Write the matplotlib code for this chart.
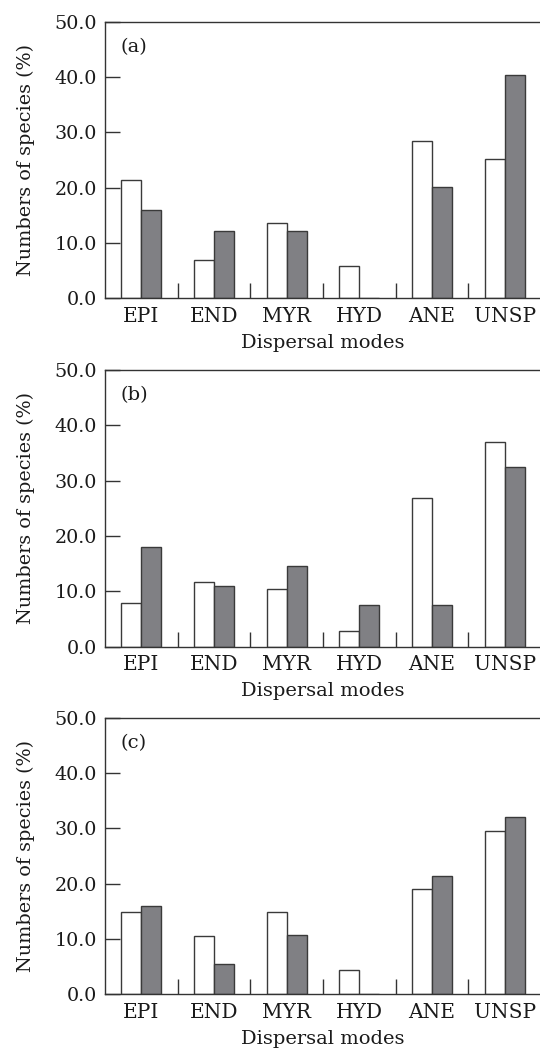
import matplotlib
matplotlib.use("Agg")
import matplotlib.pyplot as plt
import numpy as np

categories = ["EPI", "END", "MYR", "HYD", "ANE", "UNSP"]
panel_labels = ["(a)", "(b)", "(c)"]
white_a = [21.4, 7.0, 13.7, 5.9, 28.4, 25.1]
grey_a = [16.0, 12.2, 12.2, 0.0, 20.2, 40.4]
white_b = [7.8, 11.6, 10.4, 2.8, 26.8, 36.9]
grey_b = [18.0, 11.0, 14.5, 7.5, 7.6, 32.4]
white_c = [14.8, 10.6, 14.9, 4.4, 19.1, 29.6]
grey_c = [15.9, 5.4, 10.7, 0.0, 21.4, 32.0]
y_ticks = [0, 10, 20, 30, 40, 50]

plt.rcParams['font.family'] = ['DejaVu Serif']
W, H = 540, 1051
fig = plt.figure(figsize=(W / 100, H / 100), dpi=100)

tops = [21.7, 370.0, 717.7]
ax_h = 276.6
left, right = 105.0, 541.0
text_col = '#1a1a1a'
data = [(white_a, grey_a), (white_b, grey_b), (white_c, grey_c)]

x = np.arange(len(categories))
bw = 0.275
for k, (top, (wv, gv)) in enumerate(zip(tops, data)):
    ax = fig.add_axes([left / W, 1 - (top + ax_h) / H, (right - left) / W, ax_h / H])
    ax.bar(x - bw / 2, wv, width=bw, color='white', edgecolor='#3a3a3a', linewidth=1.0)
    ax.bar(x + bw / 2, gv, width=bw, color='#808084', edgecolor='#3a3a3a', linewidth=1.0)
    ax.set_xlim(-0.5, len(categories) - 0.5)
    ax.set_ylim(0, 50)
    ax.set_yticks(y_ticks)
    ax.set_yticklabels([f"{v:.1f}" for v in y_ticks])
    ax.set_xticks(x)
    ax.set_xticklabels(categories)
    ax.set_xticks(x[:-1] + 0.5, minor=True)
    ax.tick_params(axis='x', which='major', length=0, pad=6, labelsize=14.5, colors=text_col)
    ax.tick_params(axis='x', which='minor', direction='in', length=11, width=1.0, color='#333333')
    ax.tick_params(axis='y', which='major', direction='in', length=11, width=1.0, pad=6,
                   labelsize=13.8, color='#333333', labelcolor=text_col)
    for s in ['left', 'bottom', 'top']:
        ax.spines[s].set_color('#333333')
        ax.spines[s].set_linewidth(1.0)
    ax.spines['right'].set_visible(False)
    ax.set_ylabel("Numbers of species (%)", fontsize=13.8, color=text_col, labelpad=14)
    ax.set_xlabel("Dispersal modes", fontsize=14, color=text_col, labelpad=6)
    ax.text(0.035, 0.91, panel_labels[k], transform=ax.transAxes, fontsize=14,
            color=text_col, ha='left', va='center')

fig.savefig("out.png", dpi=100)
